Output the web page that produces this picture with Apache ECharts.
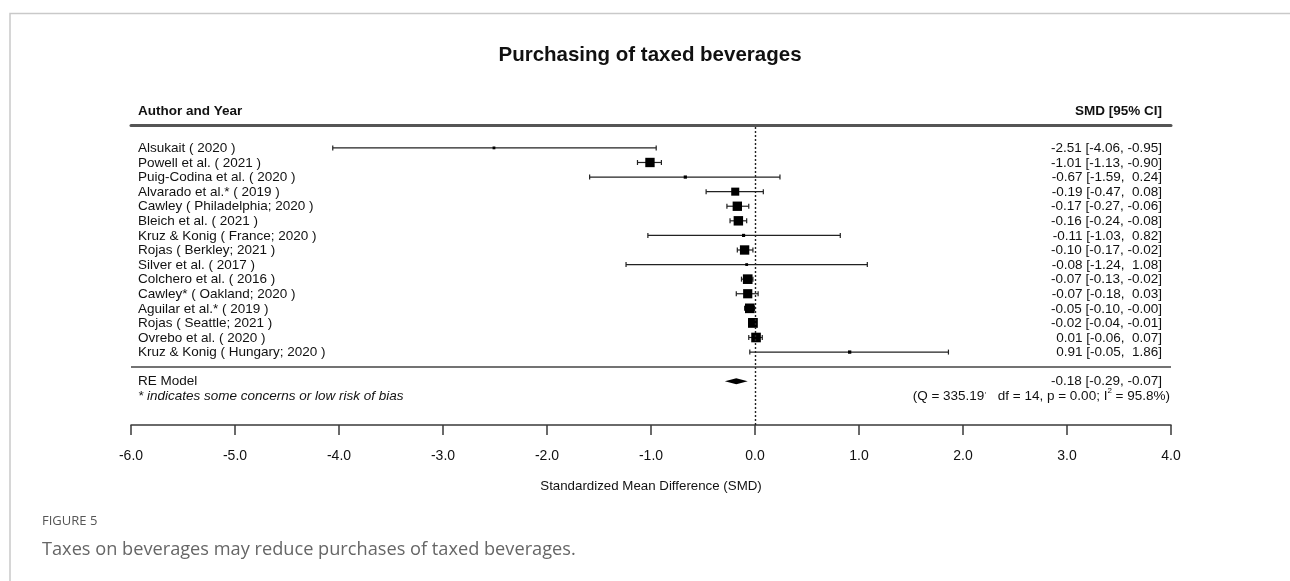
<!DOCTYPE html>
<html>
<head>
<meta charset="utf-8">
<title>Purchasing of taxed beverages</title>
<script src="https://cdn.jsdelivr.net/npm/echarts@6/dist/echarts.min.js"></script>
<style>
  html, body { margin: 0; padding: 0; background: #ffffff; }
  #chart { width: 1290px; height: 581px; }
</style>
</head>
<body>
<div id="chart"></div>
<script>
// Study-level data for the forest plot
const studies = [
  'Alsukait ( 2020 )',
  'Powell et al. ( 2021 )',
  'Puig-Codina et al. ( 2020 )',
  'Alvarado et al.* ( 2019 )',
  'Cawley ( Philadelphia; 2020 )',
  'Bleich et al. ( 2021 )',
  'Kruz & Konig ( France; 2020 )',
  'Rojas ( Berkley; 2021 )',
  'Silver et al. ( 2017 )',
  'Colchero et al. ( 2016 )',
  'Cawley* ( Oakland; 2020 )',
  'Aguilar et al.* ( 2019 )',
  'Rojas ( Seattle; 2021 )',
  'Ovrebo et al. ( 2020 )',
  'Kruz & Konig ( Hungary; 2020 )'
];
const smd     = [-2.51, -1.01, -0.67, -0.19, -0.17, -0.16, -0.11, -0.10, -0.08, -0.07, -0.07, -0.05, -0.02, 0.01, 0.91];
const ciLower = [-4.06, -1.13, -1.59, -0.47, -0.27, -0.24, -1.03, -0.17, -1.24, -0.13, -0.18, -0.10, -0.04, -0.06, -0.05];
const ciUpper = [-0.95, -0.90,  0.24,  0.08, -0.06, -0.08,  0.82, -0.02,  1.08, -0.02,  0.03, -0.004, -0.01, 0.07, 1.86];
// relative random-effects weights (drive the square sizes)
const weights = [1.0, 8.5, 1.5, 7.0, 8.5, 8.6, 1.4, 8.5, 1.0, 8.8, 8.3, 8.8, 9.0, 8.8, 1.6];

// Pooled random-effects estimate
const pooledEstimate = -0.18;
const pooledLower = -0.29;
const pooledUpper = -0.07;

// Heterogeneity statistics
const qStat = 335.19;
const qDf = 14;
const qP = 0.00;
const iSquared = 95.8;

// Axis ticks
const axisMin = -6;
const axisMax = 4;
const axisStep = 1;

const FONT = "'Liberation Sans', Arial, sans-serif";
const ROW_FONT = 13.5;
const k = studies.length;

const fmt = v => v.toFixed(2);
const fmtHi = v => (v < 0 || Object.is(v, -0) ? '' : ' ') + fmt(v);
const ciText = (e, lo, hi) => `${fmt(e)} [${fmt(lo)}, ${fmtHi(hi)}]`;

// one data item per study: [estimate, row, lower, upper, weight, index]
const studyData = studies.map((s, i) => [smd[i], k - i, ciLower[i], ciUpper[i], weights[i], i]);
const wMin = Math.min(...weights);
const wMax = Math.max(...weights);

function textEl(text, x, y, align, extra) {
  return {
    type: 'text',
    style: Object.assign({
      text: text, x: x, y: y,
      align: align, textAlign: align,
      verticalAlign: 'middle', textVerticalAlign: 'middle',
      fontFamily: FONT, fontSize: ROW_FONT, fill: '#111'
    }, extra || {})
  };
}

function renderStudy(params, api) {
  const est = api.value(0), row = api.value(1), lo = api.value(2), hi = api.value(3), w = api.value(4);
  const idx = api.value(5);
  const pE = api.coord([est, row]);
  const xL = api.coord([lo, row])[0];
  const xH = api.coord([hi, row])[0];
  const y = pE[1];
  const cs = params.coordSys;
  const size = 2.8 + 7 * (w - wMin) / (wMax - wMin);
  const capH = 2.5;
  const stroke = { stroke: '#222', lineWidth: 1.2 };
  return {
    type: 'group',
    children: [
      { type: 'line', shape: { x1: xL, y1: y, x2: xH, y2: y }, style: stroke },
      { type: 'line', shape: { x1: xL, y1: y - capH, x2: xL, y2: y + capH }, style: stroke },
      { type: 'line', shape: { x1: xH, y1: y - capH, x2: xH, y2: y + capH }, style: stroke },
      { type: 'rect', shape: { x: pE[0] - size / 2, y: y - size / 2, width: size, height: size }, style: { fill: '#000' } },
      textEl(studies[idx], cs.x + 7, y + 0.5, 'left'),
      textEl(ciText(est, lo, hi), cs.x + cs.width - 9, y + 0.5, 'right')
    ]
  };
}

function renderPooled(params, api) {
  const row = api.value(1);
  const pE = api.coord([api.value(0), row]);
  const xL = api.coord([api.value(2), row])[0];
  const xH = api.coord([api.value(3), row])[0];
  const y = pE[1];
  const cs = params.coordSys;
  const h = 3;
  const noteY = api.coord([0, row - 1])[1];
  return {
    type: 'group',
    children: [
      { type: 'polygon', shape: { points: [[xL, y], [pE[0], y - h], [xH, y], [pE[0], y + h]] }, style: { fill: '#000' } },
      textEl('RE Model', cs.x + 7, y + 0.5, 'left'),
      textEl(ciText(api.value(0), api.value(2), api.value(3)), cs.x + cs.width - 9, y + 0.5, 'right'),
      textEl('* indicates some concerns or low risk of bias', cs.x + 7, noteY + 0.5, 'left', { fontStyle: 'italic' }),
      {
        type: 'text',
        style: {
          text: `(Q = ${qStat.toFixed(2)}{sup|,}   df = ${qDf}, p = ${qP.toFixed(2)}; I{sup|2} = ${iSquared.toFixed(1)}%)`,
          x: cs.x + cs.width - 1, y: noteY + 0.5,
          align: 'right', textAlign: 'right',
          verticalAlign: 'middle', textVerticalAlign: 'middle',
          fontFamily: FONT, fontSize: ROW_FONT, fill: '#111', lineHeight: 20,
          rich: {
            sup: { fontFamily: FONT, fontSize: 8, fill: '#111', verticalAlign: 'top', lineHeight: 9 }
          }
        }
      }
    ]
  };
}

const chart = echarts.init(document.getElementById('chart'), null, { renderer: 'canvas' });

const option = {
  backgroundColor: '#ffffff',
  animation: false,
  grid: { left: 131, right: 119, top: 125, height: 300, containLabel: false },
  xAxis: [
    {
      type: 'value', min: axisMin, max: axisMax, interval: axisStep, position: 'bottom',
      axisLine: { show: true, onZero: false, lineStyle: { color: '#3a3a3a', width: 1.5 } },
      axisTick: { show: true, inside: false, length: 10, lineStyle: { color: '#3a3a3a', width: 1.5 } },
      axisLabel: { formatter: v => v.toFixed(1), margin: 24, fontSize: 14, fontFamily: FONT, color: '#111' },
      splitLine: { show: false },
      name: 'Standardized Mean Difference (SMD)',
      nameLocation: 'middle', nameGap: 55,
      nameTextStyle: { fontSize: 13.3, fontFamily: FONT, color: '#111' }
    },
    {
      type: 'value', min: axisMin, max: axisMax, position: 'top',
      axisLine: { show: true, onZero: false, lineStyle: { color: '#555', width: 3 } },
      axisTick: { show: false }, axisLabel: { show: false }, splitLine: { show: false }
    }
  ],
  yAxis: {
    type: 'value', min: -4, max: k + 1.57, show: false,
    axisLine: { show: false }, splitLine: { show: false }
  },
  graphic: [
    { type: 'polyline', shape: { points: [[10, 581], [10, 13.5], [1290, 13.5]] }, style: { stroke: '#c9c9c9', lineWidth: 1.5, fill: null } },
    { type: 'text', style: { text: 'Purchasing of taxed beverages', x: 650, y: 55, align: 'center', textAlign: 'center', verticalAlign: 'middle', textVerticalAlign: 'middle', fontFamily: FONT, fontWeight: 'bold', fontSize: 20.5, fill: '#111' } },
    { type: 'text', style: { text: 'Author and Year', x: 138, y: 111, align: 'left', textAlign: 'left', verticalAlign: 'middle', textVerticalAlign: 'middle', fontFamily: FONT, fontWeight: 'bold', fontSize: 13.5, fill: '#111' } },
    { type: 'text', style: { text: 'SMD [95% CI]', x: 1162, y: 111, align: 'right', textAlign: 'right', verticalAlign: 'middle', textVerticalAlign: 'middle', fontFamily: FONT, fontWeight: 'bold', fontSize: 13.5, fill: '#111' } },
    { type: 'text', style: { text: 'FIGURE 5', x: 42, y: 521, align: 'left', textAlign: 'left', verticalAlign: 'middle', textVerticalAlign: 'middle', fontFamily: "'Open Sans', sans-serif", fontSize: 13, fill: '#555' } },
    { type: 'text', style: { text: 'Taxes on beverages may reduce purchases of taxed beverages.', x: 42, y: 550, align: 'left', textAlign: 'left', verticalAlign: 'middle', textVerticalAlign: 'middle', fontFamily: "'Open Sans', sans-serif", fontSize: 18.2, fill: '#666' } }
  ],
  series: [
    {
      type: 'line', data: [], silent: true, symbol: 'none',
      markLine: {
        silent: true, symbol: ['none', 'none'], label: { show: false },
        data: [
          { xAxis: 0, lineStyle: { type: [2, 2], color: '#222', width: 1.4 } },
          { yAxis: 0, lineStyle: { type: 'solid', color: '#444', width: 1.5 } }
        ]
      }
    },
    {
      type: 'custom', name: 'studies', renderItem: renderStudy, clip: false, silent: true,
      encode: { x: [0, 2, 3], y: 1 },
      data: studyData
    },
    {
      type: 'custom', name: 'pooled', renderItem: renderPooled, clip: false, silent: true,
      encode: { x: [0, 2, 3], y: 1 },
      data: [[pooledEstimate, -1, pooledLower, pooledUpper]]
    }
  ]
};

chart.setOption(option);
</script>
</body>
</html>
